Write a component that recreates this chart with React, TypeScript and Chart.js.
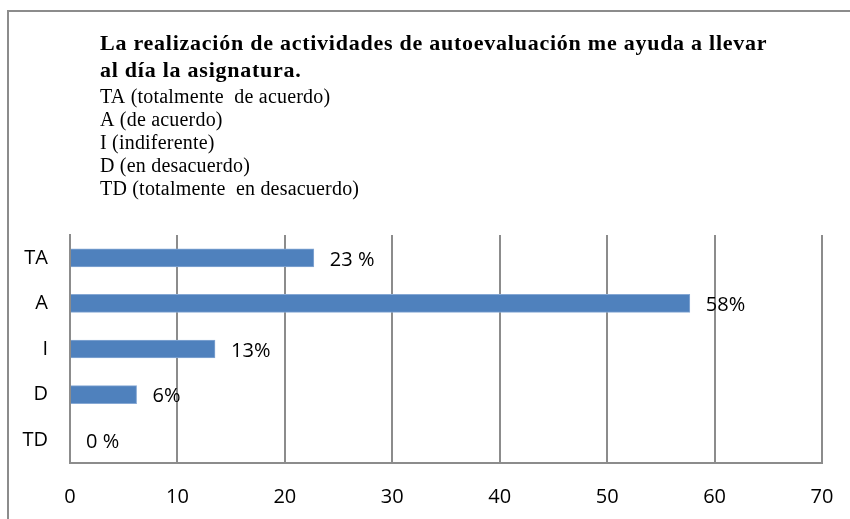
import React, { useEffect, useRef } from "react";
import { Chart, registerables } from "chart.js";

Chart.register(...registerables);

const categories = ["TA", "A", "I", "D", "TD"];
const values = [22.7, 57.7, 13.5, 6.2, 0];
const valueLabels = ["23 %", "58%", "13%", "6%", "0 %"];
const xMin = 0;
const xMax = 70;
const xStep = 10;

const titleLines = [
  "La realización de actividades de autoevaluación me ayuda a llevar",
  "al día la asignatura.",
];
const subtitleLines = [
  "TA (totalmente  de acuerdo)",
  "A (de acuerdo)",
  "I (indiferente)",
  "D (en desacuerdo)",
  "TD (totalmente  en desacuerdo)",
];

const framePlugin = {
  id: "frame",
  beforeDraw(chart: any) {
    const ctx = chart.ctx;
    ctx.save();
    ctx.fillStyle = "#ffffff";
    ctx.fillRect(0, 0, chart.width, chart.height);
    ctx.strokeStyle = "#8c8c8c";
    ctx.lineWidth = 2;
    ctx.beginPath();
    ctx.moveTo(8, chart.height + 2);
    ctx.lineTo(8, 11);
    ctx.lineTo(chart.width + 2, 11);
    ctx.stroke();
    ctx.restore();
  },
};

const titlePlugin = {
  id: "customTitle",
  afterDraw(chart: any) {
    const ctx = chart.ctx;
    ctx.save();
    ctx.fillStyle = "#000";
    ctx.textAlign = "left";
    ctx.textBaseline = "alphabetic";
    ctx.font = "bold 22px 'Liberation Serif'";
    (ctx as any).letterSpacing = "0.75px";
    const tb = [50, 77];
    titleLines.forEach((t, i) => ctx.fillText(t, 100, tb[i]));
    ctx.font = "20px 'Liberation Serif'";
    (ctx as any).letterSpacing = "0.2px";
    const sb = [103, 126, 149, 172, 195];
    subtitleLines.forEach((t, i) => ctx.fillText(t, 100, sb[i]));
    ctx.restore();
  },
};

const valueLabelPlugin = {
  id: "valueLabels",
  afterDatasetsDraw(chart: any) {
    const ctx = chart.ctx;
    const meta = chart.getDatasetMeta(0);
    ctx.save();
    ctx.fillStyle = "#000";
    ctx.font = "20px 'Open Sans'";
    ctx.textAlign = "left";
    ctx.textBaseline = "middle";
    meta.data.forEach((bar: any, i: number) => {
      ctx.fillText(valueLabels[i], bar.x + 16, bar.y + 2);
    });
    ctx.restore();
  },
};

export default function App() {
  const ref = useRef<HTMLCanvasElement | null>(null);
  useEffect(() => {
    if (!ref.current) return;
    const chart = new Chart(ref.current, {
      type: "bar",
      data: {
        labels: categories,
        datasets: [
          {
            data: values,
            backgroundColor: "#4F81BD",
            borderColor: "#86A8D4",
            borderWidth: 1,
            barThickness: 18,
          },
        ],
      },
      options: {
        indexAxis: "y",
        animation: false,
        responsive: false,
        maintainAspectRatio: false,
        layout: { padding: { top: 235, right: 28, left: 0, bottom: 0 } },
        plugins: {
          legend: { display: false },
          title: { display: false },
          tooltip: { enabled: false },
        },
        scales: {
          x: {
            min: xMin,
            max: xMax,
            ticks: {
              stepSize: xStep,
              color: "#000",
              font: { family: "'Open Sans'", size: 20 },
              padding: 22,
            },
            grid: { color: "#8c8c8c", lineWidth: 2, drawTicks: false },
            border: { display: true, color: "#8c8c8c", width: 2 },
            afterFit(scale: any) {
              scale.height = 56;
              scale.paddingLeft = 0;
              scale.paddingRight = 0;
            },
          },
          y: {
            ticks: {
              color: "#000",
              font: { family: "'Open Sans'", size: 20 },
              padding: 22,
            },
            grid: { display: false, drawTicks: false },
            border: { display: true, color: "#8c8c8c", width: 2 },
            afterFit(scale: any) {
              scale.width = 70;
              scale.paddingTop = 0;
              scale.paddingBottom = 0;
            },
          },
        },
      },
      plugins: [framePlugin, titlePlugin, valueLabelPlugin],
    } as any);
    return () => chart.destroy();
  }, []);
  return (
    <div style={{ position: "absolute", left: 0, top: 0, width: 850, height: 519 }}>
      <canvas ref={ref} width={850} height={519} style={{ width: 850, height: 519, display: "block" }} />
    </div>
  );
}
